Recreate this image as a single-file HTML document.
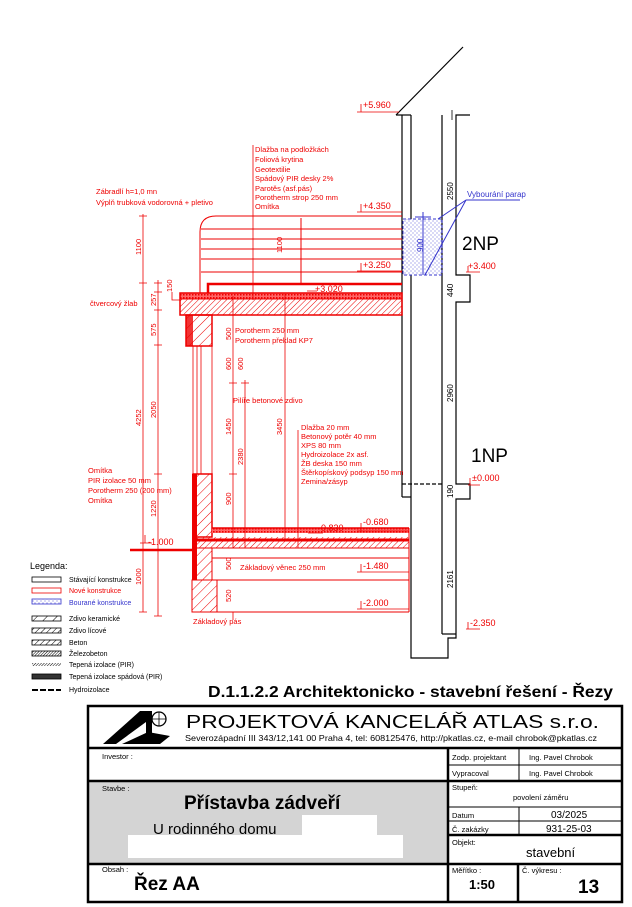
<!DOCTYPE html>
<html><head><meta charset="utf-8"><style>
html,body{margin:0;padding:0;background:#fff;}
svg{display:block;font-family:"Liberation Sans",sans-serif;}
</style></head><body>
<svg width="632" height="907" viewBox="0 0 632 907" xmlns="http://www.w3.org/2000/svg">
<defs>
<pattern id="hr" width="4" height="4" patternUnits="userSpaceOnUse" patternTransform="rotate(45)"><line x1="0" y1="0" x2="0" y2="4" stroke="#e00" stroke-width="1"/></pattern>
<pattern id="hr2" width="7" height="7" patternUnits="userSpaceOnUse" patternTransform="rotate(45)"><line x1="0" y1="0" x2="0" y2="7" stroke="#e00" stroke-width="1"/></pattern>
<pattern id="dots" width="4" height="4" patternUnits="userSpaceOnUse"><circle cx="1" cy="1" r="0.5" fill="#33c"/><circle cx="3" cy="3" r="0.5" fill="#33c"/></pattern>
<pattern id="pir" width="3" height="3" patternUnits="userSpaceOnUse"><rect width="3" height="3" fill="#f66"/><rect width="1.5" height="1.5" fill="#e00"/></pattern>
<pattern id="hk" width="4" height="4" patternUnits="userSpaceOnUse" patternTransform="rotate(45)"><line x1="0" y1="0" x2="0" y2="4" stroke="#000" stroke-width="1"/></pattern>
<pattern id="hk2" width="7" height="7" patternUnits="userSpaceOnUse" patternTransform="rotate(45)"><line x1="0" y1="0" x2="0" y2="7" stroke="#000" stroke-width="1"/></pattern>
<pattern id="hk3" width="2" height="2" patternUnits="userSpaceOnUse" patternTransform="rotate(45)"><line x1="0" y1="0" x2="0" y2="2" stroke="#000" stroke-width="1"/></pattern>
</defs>

<g stroke="#000" fill="none" stroke-width="1.2">
<line x1="396" y1="115" x2="463" y2="47"/>
<line x1="396" y1="115" x2="411" y2="115"/>
<line x1="402" y1="115" x2="402" y2="497"/>
<polyline points="411,115 411,219"/>
<polyline points="411,275 411,658 448,658 448,638 456,638 456,499 470,499 470,484 456,484 456,302 470,302 470,275 456,275 456,115 470,115"/>
<line x1="442" y1="115" x2="442" y2="634"/>
<line x1="442" y1="634" x2="456" y2="634"/>
<polyline points="402,497 411,497"/>
<line x1="402" y1="484" x2="442" y2="484" stroke-dasharray="4,2"/>
<line x1="452" y1="110" x2="452" y2="120" stroke-width="0.8"/>
</g>
<rect x="403" y="219" width="39" height="56" fill="url(#dots)" stroke="#33c" stroke-dasharray="3,2"/>
<g stroke="#33c" stroke-width="1" fill="none">
<line x1="423" y1="212" x2="423" y2="275"/>
<line x1="415" y1="217" x2="431" y2="217"/>
<line x1="425" y1="275" x2="466" y2="200"/>
<line x1="438" y1="219" x2="466" y2="200"/>
<line x1="466" y1="200" x2="520" y2="200"/>
</g>
<text x="467" y="197" font-size="8" fill="#33c">Vybourání parap</text>

<g font-size="8" fill="#000">
<text transform="translate(453,200) rotate(-90)">2550</text>
<text transform="translate(453,297) rotate(-90)">440</text>
<text transform="translate(453,402) rotate(-90)">2960</text>
<text transform="translate(453,498) rotate(-90)">190</text>
<text transform="translate(453,588) rotate(-90)">2161</text>
</g>
<text x="423" y="252" font-size="8" fill="#33c" transform="rotate(-90 423 252)">900</text>
<text x="462" y="250" font-size="19" fill="#000">2NP</text>
<text x="471" y="462" font-size="19" fill="#000">1NP</text>

<g stroke="#e00" fill="none" stroke-width="1">
<path d="M200,294 L200,232 Q200,216 216,216 L402,216"/>
<line x1="201" y1="229" x2="402" y2="229"/>
<line x1="201" y1="239" x2="402" y2="239"/>
<line x1="201" y1="249" x2="402" y2="249"/>
<line x1="201" y1="259" x2="402" y2="259"/>
<line x1="201" y1="272" x2="402" y2="272"/>
<line x1="301" y1="218" x2="301" y2="284"/>
<polyline points="208,293 208,284 402,284" stroke-width="2.5"/>
</g>
<rect x="180" y="293" width="222" height="6" fill="url(#pir)"/>
<rect x="180" y="299" width="222" height="16" fill="url(#hr)" stroke="#e00"/>
<rect x="180" y="293" width="222" height="22" fill="none" stroke="#e00" stroke-width="1.5"/>
<rect x="186" y="315" width="26" height="31" fill="url(#hr2)" stroke="#e00" stroke-width="1.5"/>
<rect x="186" y="315" width="7" height="31" fill="#e00" opacity="0.8"/>
<g stroke="#e00" stroke-width="0.8">
<line x1="193" y1="346" x2="193" y2="474"/><line x1="197" y1="346" x2="197" y2="474"/><line x1="201" y1="346" x2="201" y2="474"/><line x1="212" y1="346" x2="212" y2="474"/>
</g>
<rect x="193" y="474" width="19" height="63" fill="url(#hr2)" stroke="#e00" stroke-width="1.5"/>
<rect x="192" y="474" width="5" height="106" fill="#e00"/>
<rect x="212" y="528" width="197" height="5" fill="url(#pir)"/>
<rect x="193" y="537" width="216" height="11" fill="url(#hr)"/>
<line x1="193" y1="540" x2="409" y2="540" stroke="#e00" stroke-width="3"/>
<g stroke="#e00" fill="none" stroke-width="1">
<line x1="212" y1="528" x2="409" y2="528" stroke-width="1.5"/>
<line x1="193" y1="548" x2="409" y2="548"/>
<line x1="212" y1="558" x2="409" y2="558"/>
<line x1="212" y1="580" x2="409" y2="580"/>
<line x1="212" y1="612" x2="409" y2="612"/>
<line x1="409" y1="528" x2="409" y2="612"/>
</g>
<rect x="193" y="548" width="19" height="32" fill="url(#hr2)" stroke="#e00"/>
<rect x="192" y="580" width="25" height="32" fill="url(#hr2)" stroke="#e00"/>
<line x1="130" y1="550" x2="193" y2="550" stroke="#e00" stroke-width="2.5"/>

<g stroke="#e00" stroke-width="0.8" fill="none">
<line x1="143" y1="214" x2="143" y2="612"/>
<line x1="158" y1="280" x2="158" y2="616"/>
<line x1="253" y1="145" x2="253" y2="300"/>
<line x1="285" y1="294" x2="285" y2="540"/>
<line x1="233" y1="296" x2="233" y2="548"/>
<line x1="245" y1="380" x2="245" y2="548"/>
<line x1="298" y1="430" x2="298" y2="548"/>
<line x1="233" y1="612" x2="233" y2="620"/>
<path d="M139,216h8M139,283h8M139,550h8M139,612h8M154,283h8M154,292h8M154,310h8M154,345h8M154,474h8M154,550h8M154,616h8M229,383h8M229,474h8M229,548h8M241,383h8M229,580h8M229,612h8"/>
<polyline points="172,292 172,300 180,300"/>
</g>
<g stroke="#e00" stroke-width="0.8" fill="none">
<path d="M357,112h42M361,104v8 M357,212h45M361,204v8 M357,271h45M361,263v8 M307,291h10 M357,531h52M361,523v8 M308,533h15 M357,572h52M361,564v8 M357,609h52M361,601v8 M140,543h12M145,535v8 M466,272h14M468,266v6 M468,485h12M470,478v7 M466,629h14M468,622v7"/>
</g>
<g font-size="9" fill="#e00">
<text x="363" y="108">+5.960</text>
<text x="363" y="209">+4.350</text>
<text x="363" y="268">+3.250</text>
<text x="315" y="292">+3.020</text>
<text x="363" y="525">-0.680</text>
<text x="318" y="531">-0.830</text>
<text x="363" y="569">-1.480</text>
<text x="363" y="606">-2.000</text>
<text x="148" y="545">-1.000</text>
<text x="468" y="269">+3.400</text>
<text x="472" y="481">±0.000</text>
<text x="470" y="626">-2.350</text>
</g>
<g font-size="7.5" fill="#e00">
<text x="255" y="152">Dlažba na podložkách</text>
<text x="255" y="162">Foliová krytina</text>
<text x="255" y="172">Geotextilie</text>
<text x="255" y="181">Spádový PIR desky 2%</text>
<text x="255" y="191">Parotěs (asf.pás)</text>
<text x="255" y="200">Porotherm strop 250 mm</text>
<text x="255" y="209">Omítka</text>
<text x="96" y="194">Zábradlí h=1,0 mn</text>
<text x="96" y="205">Výplň trubková vodorovná + pletivo</text>
<text x="90" y="306">čtvercový žlab</text>
<text x="235" y="333">Porotherm 250 mm</text>
<text x="235" y="343">Porotherm překlad KP7</text>
<text x="233" y="403">Pilíře betonové zdivo</text>
<text x="301" y="430">Dlažba 20 mm</text>
<text x="301" y="439">Betonový potěr 40 mm</text>
<text x="301" y="448">XPS 80 mm</text>
<text x="301" y="457">Hydroizolace 2x asf.</text>
<text x="301" y="466">ŽB deska 150 mm</text>
<text x="301" y="475">Štěrkopískový podsyp 150 mm</text>
<text x="301" y="484">Zemina/zásyp</text>
<text x="88" y="473">Omítka</text>
<text x="88" y="483">PIR izolace 50 mm</text>
<text x="88" y="493">Porotherm 250 (200 mm)</text>
<text x="88" y="503">Omítka</text>
<text x="240" y="570">Základový věnec 250 mm</text>
<text x="193" y="624">Základový pás</text>
</g>
<g font-size="7.5" fill="#e00">
<text transform="translate(141,255) rotate(-90)">1100</text>
<text transform="translate(141,426) rotate(-90)">4252</text>
<text transform="translate(141,585) rotate(-90)">1000</text>
<text transform="translate(156,306) rotate(-90)">257</text>
<text transform="translate(156,336) rotate(-90)">575</text>
<text transform="translate(156,418) rotate(-90)">2050</text>
<text transform="translate(156,517) rotate(-90)">1220</text>
<text transform="translate(172,292) rotate(-90)">150</text>
<text transform="translate(282,253) rotate(-90)">1100</text>
<text transform="translate(231,340) rotate(-90)">500</text>
<text transform="translate(231,370) rotate(-90)">600</text>
<text transform="translate(243,370) rotate(-90)">600</text>
<text transform="translate(231,435) rotate(-90)">1450</text>
<text transform="translate(243,465) rotate(-90)">2380</text>
<text transform="translate(282,435) rotate(-90)">3450</text>
<text transform="translate(231,505) rotate(-90)">900</text>
<text transform="translate(231,570) rotate(-90)">500</text>
<text transform="translate(231,602) rotate(-90)">520</text>
</g>

<text x="30" y="569" font-size="9">Legenda:</text>
<g stroke-width="0.8">
<rect x="32" y="577" width="29" height="5" fill="none" stroke="#000"/>
<rect x="32" y="588" width="29" height="5" fill="none" stroke="#e00"/>
<rect x="32" y="599" width="29" height="5" fill="url(#dots)" stroke="#33c"/>
<rect x="32" y="616" width="29" height="5" fill="url(#hk2)" stroke="#000"/>
<rect x="32" y="628" width="29" height="5" fill="url(#hk)" stroke="#000"/>
<rect x="32" y="640" width="29" height="5" fill="url(#hk)" stroke="#000"/>
<rect x="32" y="651" width="29" height="5" fill="url(#hk3)" stroke="#000"/>
<rect x="32" y="663" width="29" height="3" fill="url(#hk3)"/>
<rect x="32" y="674" width="29" height="5" fill="#333" stroke="#000"/>
<line x1="32" y1="690" x2="61" y2="690" stroke="#000" stroke-width="2" stroke-dasharray="6,2"/>
</g>
<g font-size="7" fill="#000">
<text x="69" y="582">Stávající konstrukce</text>
<text x="69" y="593" fill="#e00">Nové konstrukce</text>
<text x="69" y="605" fill="#33c">Bourané konstrukce</text>
<text x="69" y="621">Zdivo keramické</text>
<text x="69" y="633">Zdivo lícové</text>
<text x="69" y="645">Beton</text>
<text x="69" y="656">Železobeton</text>
<text x="69" y="667">Tepená izolace  (PIR)</text>
<text x="69" y="679">Tepená izolace spádová (PIR)</text>
<text x="69" y="692">Hydroizolace</text>
</g>

<text x="208" y="697" font-size="16" font-weight="bold" textLength="405" lengthAdjust="spacingAndGlyphs">D.1.1.2.2 Architektonicko - stavební řešení - Řezy</text>

<rect x="89" y="781" width="358" height="83" fill="#d4d4d4"/>
<rect x="302" y="815" width="75" height="20" fill="#fff"/>
<rect x="128" y="835" width="275" height="23" fill="#fff"/>
<g stroke="#000" fill="none">
<rect x="88" y="706" width="534" height="196" stroke-width="2.5"/>
<line x1="88" y1="748" x2="622" y2="748" stroke-width="2.5"/>
<line x1="88" y1="781" x2="622" y2="781" stroke-width="2.5"/>
<line x1="88" y1="864" x2="622" y2="864" stroke-width="2.5"/>
<line x1="448" y1="748" x2="448" y2="902" stroke-width="2.5"/>
<line x1="519" y1="748" x2="519" y2="781"/>
<line x1="448" y1="765" x2="622" y2="765"/>
<line x1="448" y1="807" x2="622" y2="807"/>
<line x1="448" y1="821" x2="622" y2="821"/>
<line x1="519" y1="807" x2="519" y2="835"/>
<line x1="448" y1="835" x2="622" y2="835" stroke-width="2.5"/>
<line x1="518" y1="864" x2="518" y2="902" stroke-width="2.5"/>
</g>
<path d="M103,744 L140,711 L152,711 L152,744 L146,744 L146,722 L116,744 Z" fill="#000"/>
<path d="M122,744 L148,732 L170,736 L160,744 Z" fill="#000"/>
<circle cx="159" cy="719" r="7" fill="none" stroke="#000" stroke-width="1.3"/>
<path d="M152,719h14M159,712v14" stroke="#000" stroke-width="0.8"/>
<text x="186" y="728" font-size="18" textLength="413" lengthAdjust="spacingAndGlyphs">PROJEKTOVÁ  KANCELÁŘ ATLAS s.r.o.</text>
<text x="185" y="741" font-size="8.5" textLength="412" lengthAdjust="spacingAndGlyphs">Severozápadní III 343/12,141 00 Praha 4, tel: 608125476, http://pkatlas.cz, e-mail chrobok@pkatlas.cz</text>
<g font-size="7.5">
<text x="102" y="759">Investor :</text>
<text x="102" y="791">Stavbe :</text>
<text x="102" y="872">Obsah :</text>
<text x="452" y="760">Zodp. projektant</text>
<text x="452" y="776">Vypracoval</text>
<text x="529" y="760">Ing. Pavel Chrobok</text>
<text x="529" y="776">Ing. Pavel Chrobok</text>
<text x="452" y="790">Stupeň:</text>
<text x="513" y="800">povolení záměru</text>
<text x="452" y="818">Datum</text>
<text x="452" y="832">Č. zakázky</text>
<text x="452" y="845">Objekt:</text>
<text x="452" y="873">Měřítko :</text>
<text x="522" y="873">Č. výkresu :</text>
</g>
<g font-size="10">
<text x="551" y="818">03/2025</text>
<text x="546" y="832">931-25-03</text>
</g>
<text x="526" y="857" font-size="13">stavební</text>
<text x="184" y="809" font-size="19" font-weight="bold">Přístavba zádveří</text>
<text x="153" y="834" font-size="15">U rodinného domu</text>
<text x="134" y="890" font-size="19" font-weight="bold">Řez AA</text>
<text x="469" y="889" font-size="13" font-weight="bold">1:50</text>
<text x="578" y="893" font-size="19" font-weight="bold">13</text>
</svg>
</body></html>
